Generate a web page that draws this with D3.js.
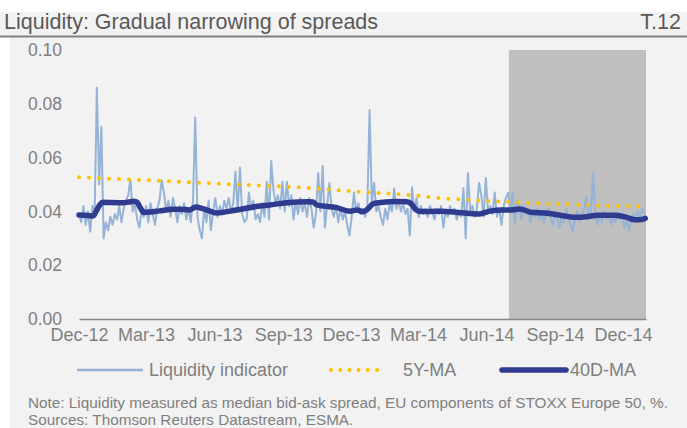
<!DOCTYPE html>
<html>
<head>
<meta charset="utf-8">
<script src="https://cdn.jsdelivr.net/npm/d3@7/dist/d3.min.js"></script>
<style>
  body { margin: 0; background: #ffffff; }
  svg { display: block; font-family: "Liberation Sans", Arial, sans-serif; }
</style>
</head>
<body>
<div id="chartgoeshere"></div>
<script>
// =============================
// Liquidity chart (T.12)
// =============================

// Liquidity indicator, one reading every 3 days from 1 Dec 2012
var liqStart = "2012-12-01";
var liqStepDays = 3;
var liqValues = [
  0.039, 0.036, 0.042, 0.035, 0.040, 0.0325, 0.042, 0.040, 0.086, 0.050,
  0.0715, 0.030, 0.036, 0.033, 0.038, 0.035, 0.039, 0.037, 0.042, 0.036,
  0.041, 0.044, 0.046, 0.0517, 0.040, 0.043, 0.037, 0.034, 0.040, 0.038,
  0.042, 0.036, 0.043, 0.039, 0.035, 0.041, 0.044, 0.0516, 0.047, 0.040,
  0.044, 0.038, 0.045, 0.041, 0.036, 0.042, 0.039, 0.043, 0.037, 0.041,
  0.036, 0.044, 0.0749, 0.038, 0.033, 0.030, 0.041, 0.036, 0.044, 0.033,
  0.040, 0.045, 0.038, 0.042, 0.039, 0.044, 0.041, 0.045, 0.040, 0.043,
  0.0548, 0.040, 0.0563, 0.039, 0.036, 0.037, 0.047, 0.041, 0.044, 0.037,
  0.039, 0.036, 0.043, 0.038, 0.051, 0.037, 0.0587, 0.048, 0.043, 0.046,
  0.041, 0.051, 0.040, 0.051, 0.042, 0.046, 0.037, 0.044, 0.039, 0.045,
  0.040, 0.043, 0.038, 0.045, 0.041, 0.034, 0.039, 0.0543, 0.040, 0.0569,
  0.034, 0.042, 0.0505, 0.041, 0.038, 0.042, 0.036, 0.041, 0.037, 0.040,
  0.035, 0.031, 0.038, 0.047, 0.040, 0.043, 0.039, 0.041, 0.038, 0.042,
  0.0777, 0.043, 0.0506, 0.040, 0.042, 0.038, 0.035, 0.041, 0.037, 0.043,
  0.040, 0.0485, 0.041, 0.044, 0.040, 0.043, 0.039, 0.041, 0.031, 0.049,
  0.040, 0.045, 0.038, 0.042, 0.039, 0.041, 0.038, 0.042, 0.040, 0.037,
  0.041, 0.039, 0.042, 0.034, 0.040, 0.038, 0.042, 0.039, 0.041, 0.037,
  0.040, 0.038, 0.0487, 0.030, 0.0543, 0.040, 0.042, 0.038, 0.041, 0.0506,
  0.046, 0.038, 0.0524, 0.040, 0.042, 0.039, 0.047, 0.038, 0.041, 0.035,
  0.042, 0.045, 0.047, 0.040, 0.047, 0.036, 0.044, 0.041, 0.037, 0.042,
  0.039, 0.041, 0.036, 0.040, 0.038, 0.041, 0.037, 0.040, 0.036, 0.039,
  0.041, 0.038, 0.035, 0.040, 0.037, 0.034, 0.039, 0.036, 0.041, 0.037,
  0.035, 0.0325, 0.038, 0.040, 0.036, 0.039, 0.041, 0.0455, 0.037, 0.040,
  0.0542, 0.038, 0.035, 0.039, 0.036, 0.040, 0.037, 0.039, 0.035, 0.038,
  0.036, 0.040, 0.037, 0.039, 0.034, 0.037, 0.033, 0.036, 0.039, 0.037,
  0.040, 0.038, 0.041, 0.039
];

// 40-day moving average
var maDates = [
  "2012-12-01", "2012-12-13", "2012-12-20", "2012-12-24", "2012-12-29",
  "2013-01-02", "2013-01-12", "2013-01-29", "2013-02-08", "2013-02-13",
  "2013-02-17", "2013-02-21", "2013-02-26", "2013-03-07", "2013-03-19",
  "2013-04-07", "2013-04-23", "2013-04-29", "2013-05-03", "2013-05-07",
  "2013-05-16", "2013-05-25", "2013-06-03", "2013-06-30", "2013-07-27",
  "2013-08-14", "2013-09-06", "2013-10-03", "2013-10-11", "2013-10-16",
  "2013-11-12", "2013-11-29", "2013-12-09", "2013-12-17", "2013-12-22",
  "2013-12-28", "2014-01-01", "2014-01-10", "2014-02-01", "2014-02-14",
  "2014-02-20", "2014-02-25", "2014-03-02", "2014-03-18", "2014-04-01",
  "2014-04-21", "2014-05-06", "2014-05-22", "2014-05-30", "2014-06-06",
  "2014-06-21", "2014-07-04", "2014-07-15", "2014-07-22", "2014-07-30",
  "2014-08-22", "2014-09-09", "2014-09-27", "2014-10-13", "2014-10-28",
  "2014-11-20", "2014-12-06", "2014-12-17", "2014-12-26", "2014-12-31"
];
var maValues = [
  0.0387, 0.0385, 0.0383, 0.0400, 0.0425,
  0.0434, 0.0433, 0.0432, 0.0436, 0.0438,
  0.0434, 0.0415, 0.0396, 0.0398, 0.0402,
  0.0408, 0.0407, 0.0405, 0.0412, 0.0416,
  0.0410, 0.0402, 0.0394, 0.0405, 0.0418,
  0.0424, 0.0432, 0.0436, 0.0435, 0.0424,
  0.0414, 0.0401, 0.0405, 0.0399, 0.0405,
  0.0422, 0.0430, 0.0433, 0.0437, 0.0436,
  0.0428, 0.0410, 0.0401, 0.0400, 0.0401,
  0.0397, 0.0393, 0.0390, 0.0396, 0.0401,
  0.0405, 0.0405, 0.0409, 0.0405, 0.0397,
  0.0393, 0.0385, 0.0378, 0.0380, 0.0386,
  0.0386, 0.0378, 0.0369, 0.0370, 0.0374
];

// 5-year moving average, monthly
var fiveYDates = [
  "2012-12-01", "2013-01-01", "2013-02-01", "2013-03-01", "2013-04-01", "2013-05-01",
  "2013-06-01", "2013-07-01", "2013-08-01", "2013-09-01", "2013-10-01", "2013-11-01",
  "2013-12-01", "2014-01-01", "2014-02-01", "2014-03-01", "2014-04-01", "2014-05-01",
  "2014-06-01", "2014-07-01", "2014-08-01", "2014-09-01", "2014-10-01", "2014-11-01",
  "2014-12-01", "2014-12-31"
];
var fiveYValues = [
  0.0527, 0.0523, 0.0519, 0.0516, 0.0512, 0.0508,
  0.0503, 0.0500, 0.0496, 0.0493, 0.0488, 0.0482,
  0.0475, 0.0470, 0.0464, 0.0458, 0.0449, 0.0444,
  0.0439, 0.0435, 0.0431, 0.0428, 0.0425, 0.0422,
  0.0420, 0.0419
];

// Axis ticks and shaded reporting period
var xTickDates = ["2012-12-01", "2013-03-01", "2013-06-01", "2013-09-01", "2013-12-01",
                  "2014-03-01", "2014-06-01", "2014-09-01", "2014-12-01"];
var yTickValues = [0, 0.02, 0.04, 0.06, 0.08, 0.10];
var xDomain = ["2012-12-01", "2015-01-01"];
var shadeRange = ["2014-07-01", "2015-01-01"];

var legendLabels = ["Liquidity indicator", "5Y-MA", "40D-MA"];
var titleText = "Liquidity: Gradual narrowing of spreads";
var chartNumber = "T.12";
var noteLines = ["Note: Liquidity measured as median bid-ask spread, EU components of STOXX Europe 50, %.",
                 "Sources: Thomson Reuters Datastream, ESMA."];

// Set chart size
var totalWidth = 687,
  totalHeight = 428;
var plot = { left: 79, right: 646, top: 50, bottom: 319 };

var parseDate = d3.timeParse("%Y-%m-%d");

var startDate = parseDate(liqStart);
var liqData = liqValues.map(function (v, i) {
  return { date: d3.timeDay.offset(startDate, i * liqStepDays), value: v };
});
var maData = maDates.map(function (d, i) {
  return { date: parseDate(d), value: maValues[i] };
});
var fiveYData = fiveYDates.map(function (d, i) {
  return { date: parseDate(d), value: fiveYValues[i] };
});

// Set ranges
var x = d3.scaleTime()
  .domain(xDomain.map(parseDate))
  .range([plot.left, plot.right]);

var y = d3.scaleLinear()
  .domain([0, 0.10])
  .range([plot.bottom, plot.top]);

var svg = d3.select("#chartgoeshere")
  .append("svg")
  .attr("width", totalWidth)
  .attr("height", totalHeight);

// Backgrounds
svg.append("rect")
  .attr("x", 0).attr("y", 12)
  .attr("width", totalWidth).attr("height", 25)
  .attr("fill", "#f2f2f2");
svg.append("rect")
  .attr("x", 10).attr("y", 37)
  .attr("width", totalWidth - 10).attr("height", totalHeight - 37)
  .attr("fill", "#f2f2f2");

// Title and underline
svg.append("text")
  .attr("x", 4).attr("y", 29)
  .style("font-size", "21.5px")
  .attr("fill", "#595959")
  .text(titleText);
svg.append("text")
  .attr("x", 681).attr("y", 29)
  .attr("text-anchor", "end")
  .style("font-size", "21.5px")
  .attr("fill", "#595959")
  .text(chartNumber);
svg.append("line")
  .attr("x1", 0).attr("x2", totalWidth)
  .attr("y1", 36.5).attr("y2", 36.5)
  .attr("stroke", "#7f7f7f")
  .attr("stroke-width", 2);

// Shaded period
svg.append("rect")
  .attr("x", x(parseDate(shadeRange[0])))
  .attr("y", y(0.10))
  .attr("width", x(parseDate(shadeRange[1])) - x(parseDate(shadeRange[0])))
  .attr("height", y(0) - y(0.10))
  .attr("fill", "#bfbfbf");

// Y axis labels
var yaxis = svg.append("g")
  .attr("transform", "translate(" + plot.left + ",0)")
  .call(d3.axisLeft(y)
    .tickValues(yTickValues)
    .tickFormat(d3.format(".2f"))
    .tickSize(0)
    .tickPadding(17));
yaxis.select(".domain").remove();
yaxis.selectAll("text")
  .style("font-size", "17.5px")
  .style("font-family", "Liberation Sans, Arial, sans-serif")
  .attr("fill", "#7f7f7f");

// X axis
var xaxis = svg.append("g")
  .attr("transform", "translate(0," + plot.bottom + ")")
  .call(d3.axisBottom(x)
    .tickValues(xTickDates.map(parseDate))
    .tickFormat(d3.timeFormat("%b-%y"))
    .tickSize(0)
    .tickPadding(9));
xaxis.select(".domain")
  .attr("stroke", "#868686")
  .attr("stroke-width", 1.5);
xaxis.selectAll("text")
  .style("font-size", "18px")
  .style("font-family", "Liberation Sans, Arial, sans-serif")
  .attr("fill", "#7f7f7f");

// Lines
var line = d3.line()
  .x(function (d) { return x(d.date); })
  .y(function (d) { return y(d.value); });

svg.append("path")
  .datum(liqData)
  .attr("d", line)
  .attr("fill", "none")
  .attr("stroke", "#95b3d7")
  .attr("stroke-width", 2)
  .attr("stroke-linejoin", "round");

svg.append("path")
  .datum(fiveYData)
  .attr("d", line)
  .attr("fill", "none")
  .attr("stroke", "#ffc000")
  .attr("stroke-width", 4)
  .attr("stroke-linecap", "round")
  .attr("stroke-dasharray", "0,10");

svg.append("path")
  .datum(maData)
  .attr("d", line.curve(d3.curveMonotoneX))
  .attr("fill", "none")
  .attr("stroke", "#2e3b8e")
  .attr("stroke-width", 5.5)
  .attr("stroke-linejoin", "round")
  .attr("stroke-linecap", "round");

// Legend
var legendY = 370;
var legendItems = [
  { x1: 77, x2: 143, tx: 149, color: "#95b3d7", width: 2.5, dash: null, cap: "butt" },
  { x1: 331, x2: 386, tx: 403, color: "#ffc000", width: 4, dash: "0,9.2", cap: "round" },
  { x1: 502, x2: 566, tx: 570, color: "#2e3b8e", width: 5.5, dash: null, cap: "round" }
];
var legend = svg.append("g");
legendItems.forEach(function (d, i) {
  legend.append("line")
    .attr("x1", d.x1).attr("x2", d.x2)
    .attr("y1", legendY).attr("y2", legendY)
    .attr("stroke", d.color)
    .attr("stroke-width", d.width)
    .attr("stroke-linecap", d.cap)
    .attr("stroke-dasharray", d.dash);
  legend.append("text")
    .attr("x", d.tx).attr("y", legendY)
    .attr("dy", "0.35em")
    .style("font-size", "18px")
    .attr("fill", "#7f7f7f")
    .text(legendLabels[i]);
});

// Note
svg.selectAll(".note")
  .data(noteLines)
  .enter()
  .append("text")
  .attr("class", "note")
  .attr("x", 28)
  .attr("y", function (d, i) { return 408 + i * 17; })
  .style("font-size", "15.3px")
  .attr("fill", "#7f7f7f")
  .text(function (d) { return d; });
</script>
</body>
</html>
